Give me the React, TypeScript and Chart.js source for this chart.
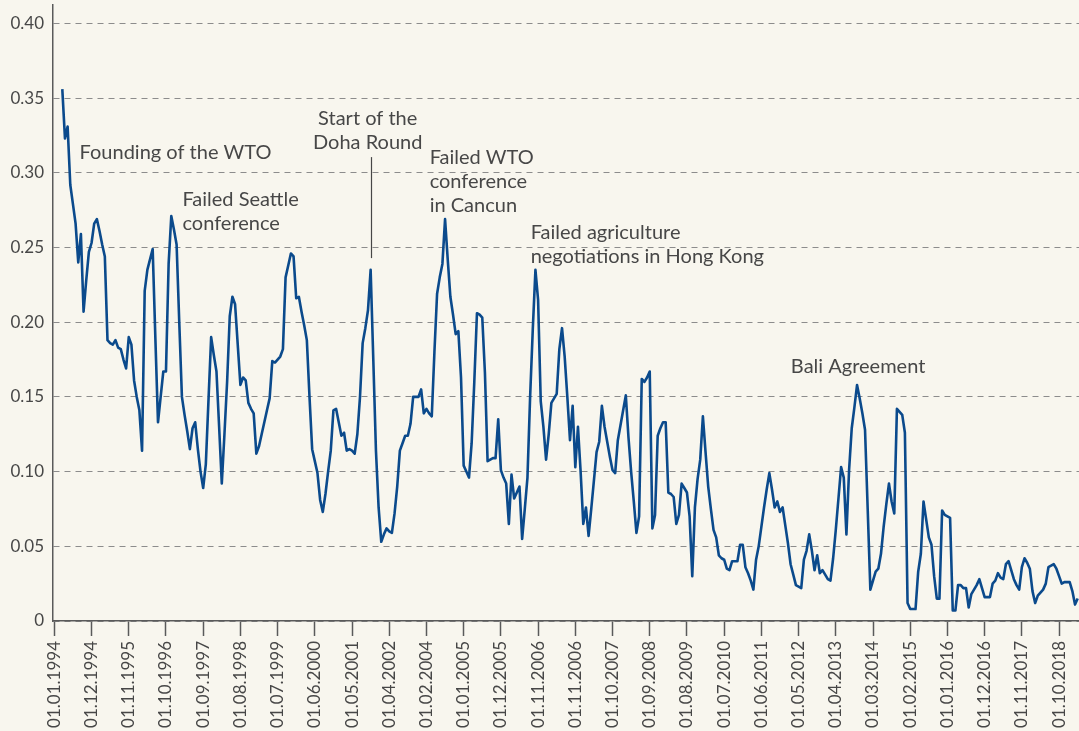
import React, { useEffect, useRef } from 'react';
import { Chart, registerables } from 'chart.js';

Chart.register(...registerables);

// Axis tick labels (one label every LABEL_EVERY observations)
const tickLabels = [
  '01.01.1994', '01.12.1994', '01.11.1995', '01.10.1996', '01.09.1997', '01.08.1998', '01.07.1999',
  '01.06.2000', '01.05.2001', '01.04.2002', '01.02.2004', '01.01.2005', '01.12.2005', '01.11.2006',
  '01.11.2006', '01.10.2007', '01.09.2008', '01.08.2009', '01.07.2010', '01.06.2011', '01.05.2012',
  '01.04.2013', '01.03.2014', '01.02.2015', '01.01.2016', '01.12.2016', '01.11.2017', '01.10.2018',
];
const LABEL_EVERY = 14;

const seriesValues: (number | null)[] = [
  null, null, null, 0.356, 0.323, 0.331, 0.292, 0.279, 0.266, 0.240,
  0.259, 0.207, 0.228, 0.247, 0.253, 0.266, 0.269, 0.261, 0.252, 0.244,
  0.188, 0.186, 0.185, 0.188, 0.183, 0.182, 0.175, 0.169, 0.190, 0.185,
  0.161, 0.150, 0.141, 0.114, 0.221, 0.235, 0.242, 0.249, 0.190, 0.133,
  0.150, 0.167, 0.167, 0.239, 0.271, 0.262, 0.252, 0.200, 0.150, 0.138,
  0.127, 0.115, 0.129, 0.133, 0.115, 0.100, 0.089, 0.105, 0.148, 0.190,
  0.178, 0.167, 0.130, 0.092, 0.125, 0.160, 0.204, 0.217, 0.212, 0.185,
  0.158, 0.163, 0.161, 0.146, 0.142, 0.139, 0.112, 0.117, 0.125, 0.133,
  0.141, 0.149, 0.174, 0.173, 0.175, 0.177, 0.182, 0.230, 0.238, 0.246,
  0.244, 0.216, 0.217, 0.207, 0.198, 0.188, 0.150, 0.115, 0.107, 0.099,
  0.081, 0.073, 0.085, 0.100, 0.114, 0.141, 0.142, 0.133, 0.124, 0.126,
  0.114, 0.115, 0.114, 0.112, 0.125, 0.150, 0.186, 0.196, 0.208, 0.235,
  0.175, 0.114, 0.076, 0.053, 0.058, 0.062, 0.060, 0.059, 0.072, 0.090,
  0.114, 0.119, 0.124, 0.124, 0.132, 0.150, 0.150, 0.150, 0.155, 0.139,
  0.142, 0.139, 0.137, 0.180, 0.219, 0.230, 0.239, 0.269, 0.242, 0.217,
  0.205, 0.192, 0.194, 0.163, 0.104, 0.100, 0.096, 0.119, 0.160, 0.206,
  0.205, 0.203, 0.166, 0.107, 0.108, 0.109, 0.109, 0.135, 0.101, 0.096,
  0.092, 0.065, 0.098, 0.082, 0.086, 0.090, 0.055, 0.075, 0.096, 0.150,
  0.195, 0.235, 0.215, 0.147, 0.130, 0.108, 0.125, 0.146, 0.149, 0.152,
  0.182, 0.196, 0.177, 0.150, 0.121, 0.144, 0.103, 0.130, 0.100, 0.065,
  0.076, 0.057, 0.075, 0.094, 0.113, 0.120, 0.144, 0.130, 0.120, 0.110,
  0.101, 0.099, 0.121, 0.131, 0.141, 0.151, 0.123, 0.100, 0.080, 0.059,
  0.070, 0.162, 0.160, 0.163, 0.167, 0.062, 0.071, 0.124, 0.129, 0.133,
  0.133, 0.086, 0.085, 0.083, 0.065, 0.071, 0.092, 0.089, 0.086, 0.070,
  0.030, 0.076, 0.095, 0.108, 0.137, 0.113, 0.090, 0.075, 0.061, 0.056,
  0.044, 0.042, 0.041, 0.035, 0.034, 0.040, 0.040, 0.040, 0.051, 0.051,
  0.036, 0.032, 0.027, 0.021, 0.041, 0.050, 0.063, 0.076, 0.088, 0.099,
  0.088, 0.076, 0.080, 0.073, 0.076, 0.064, 0.052, 0.038, 0.031, 0.024,
  0.023, 0.022, 0.041, 0.047, 0.058, 0.047, 0.034, 0.044, 0.032, 0.034,
  0.031, 0.028, 0.027, 0.042, 0.061, 0.082, 0.103, 0.096, 0.058, 0.101,
  0.129, 0.143, 0.158, 0.149, 0.139, 0.128, 0.075, 0.021, 0.027, 0.033,
  0.035, 0.045, 0.063, 0.078, 0.092, 0.080, 0.072, 0.142, 0.140, 0.138,
  0.126, 0.012, 0.008, 0.008, 0.008, 0.033, 0.045, 0.080, 0.068, 0.056,
  0.051, 0.030, 0.015, 0.015, 0.074, 0.071, 0.070, 0.069, 0.007, 0.007,
  0.024, 0.024, 0.022, 0.022, 0.009, 0.018, 0.021, 0.024, 0.028, 0.022,
  0.016, 0.016, 0.016, 0.025, 0.027, 0.032, 0.029, 0.028, 0.038, 0.040,
  0.034, 0.028, 0.024, 0.021, 0.036, 0.042, 0.039, 0.035, 0.020, 0.012,
  0.017, 0.019, 0.021, 0.025, 0.036, 0.037, 0.038, 0.035, 0.030, 0.025,
  0.026, 0.026, 0.026, 0.020, 0.011, 0.015,
];

// Category labels built from the tick labels
const categories = seriesValues.map((_, i) =>
  i % LABEL_EVERY === 0 ? tickLabels[i / LABEL_EVERY] ?? '' : ''
);

// Event notes, anchored in data units (category index, value)
const noteTexts = [
  ['Founding of the WTO'],
  ['Failed Seattle', 'conference'],
  ['Start of the', 'Doha Round'],
  ['Failed WTO', 'conference', 'in Cancun'],
  ['Failed agriculture', 'negotiations in Hong Kong'],
  ['Bali Agreement'],
];
const noteIndex = [9.5, 48.2, 117.9, 141.2, 179.2, 277.1];
const noteValue = [0.3138, 0.2824, 0.3366, 0.3105, 0.2603, 0.1706];
const noteAlign: CanvasTextAlign[] = ['left', 'left', 'center', 'left', 'left', 'left'];
const dohaMarker = { index: 119, from: 0.3105, to: 0.2429 };

const BG = '#f8f6ee';
const TEXT = '#474747';
const AXIS = '#5a5a5a';
const FONT = 'Lato';

const backgroundPlugin = {
  id: 'bgFill',
  beforeDraw(chart: any) {
    const { ctx, width, height } = chart;
    ctx.save();
    ctx.fillStyle = BG;
    ctx.fillRect(0, 0, width, height);
    ctx.restore();
  },
};

const notesPlugin = {
  id: 'eventNotes',
  afterDatasetsDraw(chart: any) {
    const { ctx } = chart;
    const xs = chart.scales.x;
    const ys = chart.scales.y;
    ctx.save();
    ctx.fillStyle = TEXT;
    ctx.font = `20px ${FONT}`;
    ctx.textBaseline = 'middle';
    noteTexts.forEach((lines, k) => {
      const px = xs.getPixelForValue(noteIndex[k]);
      const py = ys.getPixelForValue(noteValue[k]);
      ctx.textAlign = noteAlign[k];
      lines.forEach((line, j) => ctx.fillText(line, px, py + j * 24));
    });
    const mx = Math.round(xs.getPixelForValue(dohaMarker.index)) + 0.5;
    ctx.strokeStyle = TEXT;
    ctx.lineWidth = 1.2;
    ctx.beginPath();
    ctx.moveTo(mx, ys.getPixelForValue(dohaMarker.from));
    ctx.lineTo(mx, ys.getPixelForValue(dohaMarker.to));
    ctx.stroke();
    ctx.restore();
  },
};

export default function App() {
  const canvasRef = useRef<HTMLCanvasElement | null>(null);

  useEffect(() => {
    if (!canvasRef.current) return;
    const chart = new Chart(canvasRef.current, {
      type: 'line',
      data: {
        labels: categories,
        datasets: [
          {
            data: seriesValues,
            borderColor: '#0b4a8c',
            borderWidth: 2.6,
            pointRadius: 0,
            tension: 0,
            borderJoinStyle: 'round',
            spanGaps: false,
            fill: false,
          },
        ],
      },
      options: {
        animation: false,
        responsive: true,
        maintainAspectRatio: false,
        layout: { padding: { top: 5, right: 0, left: 0, bottom: 0 } },
        plugins: {
          legend: { display: false },
          tooltip: { enabled: false },
          title: { display: false },
        },
        scales: {
          x: {
            type: 'category',
            offset: true,
            grid: {
              display: true,
              drawOnChartArea: false,
              drawTicks: true,
              tickLength: 15,
              tickColor: AXIS,
              tickWidth: 1.5,
              offset: false,
            },
            border: { display: true, color: AXIS, width: 1.5 },
            ticks: {
              autoSkip: false,
              maxRotation: 90,
              minRotation: 90,
              padding: 5,
              color: TEXT,
              font: { family: FONT, size: 17 },
              callback: (value: any) => tickLabels[Number(value) / LABEL_EVERY] ?? '',
            },
            afterBuildTicks: (scale: any) => {
              scale.ticks = scale.ticks.filter((t: any) => t.value % LABEL_EVERY === 0);
            },
            afterFit: (scale: any) => {
              scale.height = 110;
              scale.paddingLeft = 0;
              scale.paddingRight = 0;
            },
          },
          y: {
            min: 0,
            max: 0.4123,
            grid: { drawTicks: false, color: '#8c8c8c', lineWidth: 1 },
            border: { display: true, color: AXIS, width: 1.5, dash: [6, 5] },
            ticks: {
              stepSize: 0.05,
              includeBounds: false,
              padding: 9,
              color: TEXT,
              font: { family: FONT, size: 17 },
              callback: (v: any) => (Number(v) === 0 ? '0' : Number(v).toFixed(2)),
            },
            afterFit: (scale: any) => {
              scale.width = 53;
              scale.paddingTop = 0;
              scale.paddingBottom = 0;
            },
          },
        },
      },
      plugins: [backgroundPlugin, notesPlugin],
    });
    return () => chart.destroy();
  }, []);

  return (
    <div
      style={{
        position: 'absolute',
        left: 0,
        top: 0,
        width: 1079,
        height: 731,
        background: BG,
        overflow: 'hidden',
      }}
    >
      <canvas ref={canvasRef} />
    </div>
  );
}
